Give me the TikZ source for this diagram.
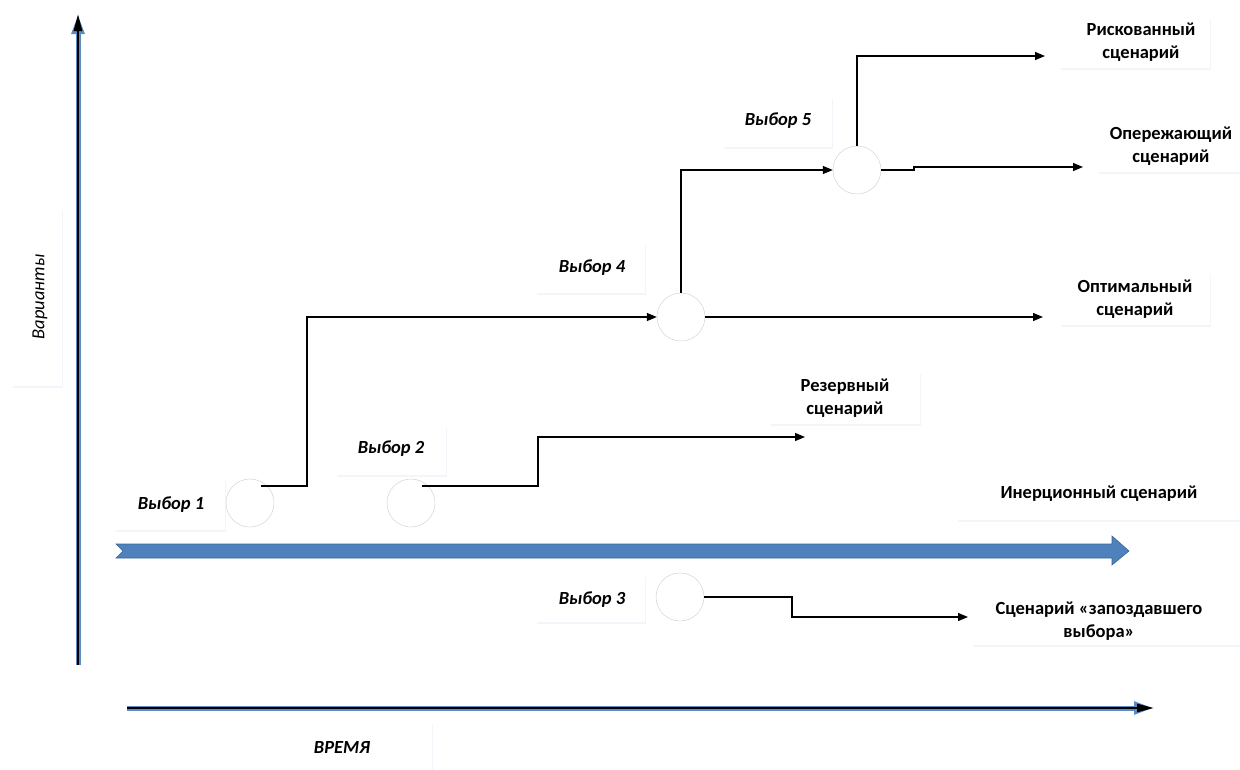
\documentclass[tikz,border=0pt]{standalone}
\usepackage{fontspec}
\setmainfont{Carlito}
\usetikzlibrary{arrows.meta,shadows,shapes.arrows}
\definecolor{axblue}{HTML}{5B8CC4}
\definecolor{bigblue}{HTML}{4F81BD}
\definecolor{bigedge}{HTML}{3A6796}
\tikzset{
  tbox/.style={fill=white, draw=none, inner sep=0pt, anchor=north west,
    drop shadow={shadow xshift=1pt, shadow yshift=-2pt, opacity=0.08, fill=axblue}},
  ttext/.style={font=\fontsize{18.5}{22.5}\selectfont\bfseries, align=center, inner sep=0pt},
  ctext/.style={font=\fontsize{18.5}{22.5}\selectfont\bfseries\itshape, align=center, inner sep=0pt},
  choice/.style={circle, draw=black!20, fill=white, minimum size=48pt, inner sep=0pt},
  conn/.style={draw=black, line width=1.3pt, -{Triangle[length=10pt,width=8pt]}},
}
\begin{document}
\begin{tikzpicture}[x=1pt,y=-1pt]
\useasboundingbox (0,0) rectangle (1240,769);
\fill[white] (0,0) rectangle (1240,769);
% text boxes
\path[tbox] (12,208) rectangle (62,386);
\path[tbox] (250,722) rectangle (432,775);
\path[tbox] (115,478) rectangle (225,530);
\path[tbox] (336,425) rectangle (446,475);
\path[tbox] (536,575) rectangle (645,622);
\path[tbox] (536,243) rectangle (645,293);
\path[tbox] (723,97) rectangle (832,147);
\path[tbox] (770,372) rectangle (920,424);
\path[tbox] (1060,272) rectangle (1210,325);
\path[tbox] (1060,17) rectangle (1210,68);
\path[tbox] (1098,120) rectangle (1245,172);
\path[tbox] (957,470) rectangle (1245,520);
\path[tbox] (972,597) rectangle (1245,645);
% axes
\coordinate (vy0) at (78,665);
\coordinate (vy1) at (78,14);
\coordinate (hx0) at (127,708);
\coordinate (hx1) at (1154,708);
\draw[axblue, line width=5pt, -{Triangle[length=20pt,width=12pt]}] (vy0) -- (vy1);
\draw[black, line width=2.5pt, -{Triangle[length=17pt,width=8pt]}] (vy0) -- (vy1);
\draw[axblue, line width=5pt, -{Triangle[length=20pt,width=12pt]}] (hx0) -- (hx1);
\draw[black, line width=2.5pt, -{Triangle[length=17pt,width=8pt]}] (hx0) -- (hx1);
% big blue arrow
\filldraw[fill=bigblue, draw=bigedge, line width=0.6pt]
  (116,544) -- (1112,544) -- (1112,536) -- (1129,551) -- (1112,565) -- (1112,558)
  -- (116,558) -- (123,551) -- cycle;
% labels
\node[ttext, rotate=90, font=\fontsize{18.5}{22.5}\selectfont\itshape] (var) at (40,297) {Варианты};
\node[ctext] (time) at (342,747) {ВРЕМЯ};
\node[ctext] (v1) at (171,505) {Выбор 1};
\node[ctext] (v2) at (391,449) {Выбор 2};
\node[ctext] (v3) at (592,600) {Выбор 3};
\node[ctext] (v4) at (592,268) {Выбор 4};
\node[ctext] (v5) at (778,121) {Выбор 5};
\node[ttext] (rez) at (845,398) {Резервный\\сценарий};
\node[ttext] (opt) at (1135,299) {Оптимальный\\сценарий};
\node[ttext] (risk) at (1141,42) {Рискованный\\сценарий};
\node[ttext] (oper) at (1171,146) {Опережающий\\сценарий};
\node[ttext] (iner) at (1099,494) {Инерционный сценарий};
\node[ttext] (zap) at (1099,621) {Сценарий «запоздавшего\\выбора»};
% circles
\node[choice] (c1) at (250,503) {};
\node[choice] (c2) at (411,503) {};
\node[choice] (c3) at (680,597) {};
\node[choice] (c4) at (681,317) {};
\node[choice] (c5) at (857,170) {};
% connectors
\coordinate (e1) at (1043,317);
\coordinate (e2) at (805,437);
\coordinate (e3) at (1045,56);
\coordinate (e4) at (1083,167);
\coordinate (e5) at (968,617);
\draw[conn] ([xshift=-6pt]c1.north east |- 0,486) -- (307,486) -- (307,317) -- (c4.west);
\draw[conn] ([xshift=-6pt]c2.north east |- 0,486) -- (538,486) -- (538,437) -- (e2);
\draw[conn] (c4.east) -- (e1);
\draw[conn] (c4.north) -- (681,170) -- (c5.west);
\draw[conn] (c5.north) -- (857,56) -- (e3);
\draw[conn] (c5.east) -- (914,170) -- (914,167) -- (e4);
\draw[conn] (c3.east) -- (792,597) -- (792,617) -- (e5);
\end{tikzpicture}
\end{document}
